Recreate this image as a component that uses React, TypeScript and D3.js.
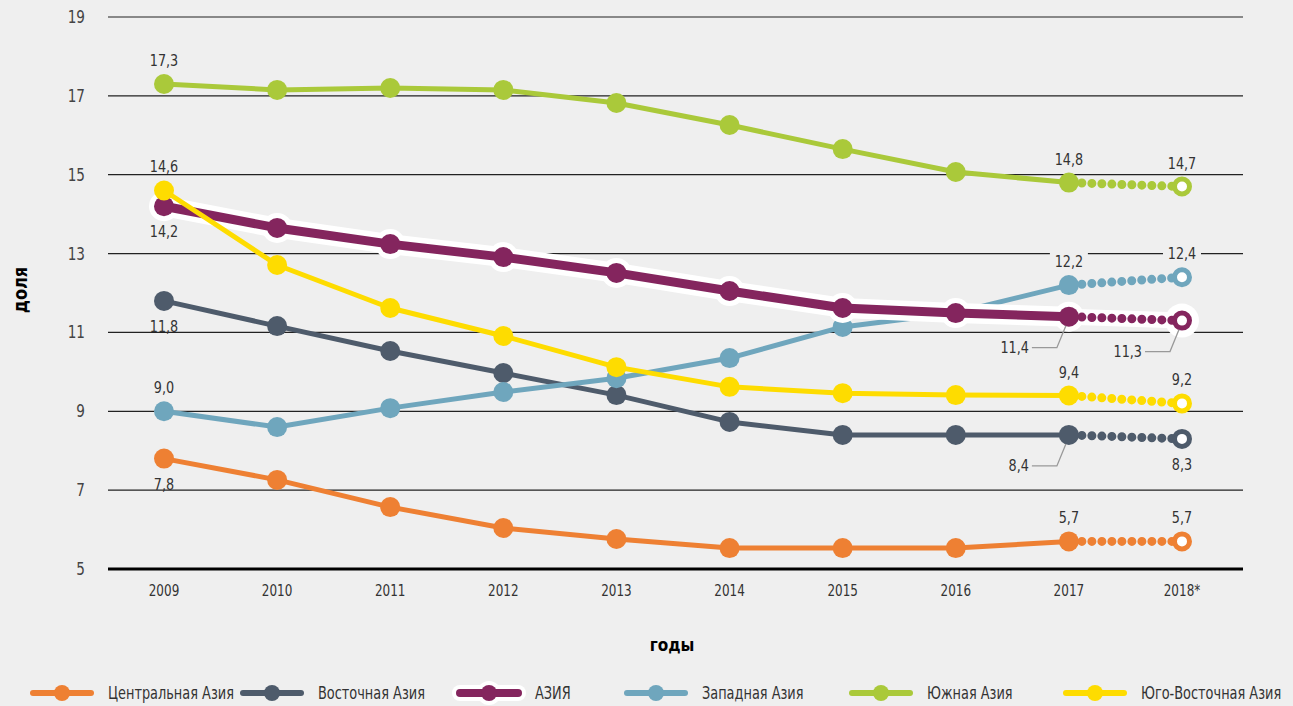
import * as d3 from "d3";

// chart data
const years = ["2009", "2010", "2011", "2012", "2013", "2014", "2015", "2016", "2017", "2018*"];
const yTicks = [5, 7, 9, 11, 13, 15, 17, 19];

const central = [7.8, 7.26, 6.57, 6.04, 5.76, 5.53, 5.53, 5.53, 5.7, 5.7];
const eastern = [11.8, 11.16, 10.53, 9.97, 9.41, 8.73, 8.4, 8.4, 8.4, 8.3];
const asia = [14.2, 13.65, 13.24, 12.91, 12.51, 12.05, 11.62, 11.49, 11.4, 11.3];
const western = [9.0, 8.6, 9.08, 9.49, 9.84, 10.35, 11.14, 11.5, 12.2, 12.4];
const southern = [17.3, 17.15, 17.2, 17.15, 16.82, 16.26, 15.65, 15.07, 14.8, 14.7];
const southEast = [14.6, 12.71, 11.62, 10.91, 10.12, 9.62, 9.46, 9.41, 9.4, 9.2];

const W = 1293;
const H = 706;
const FONT = "'DejaVu Sans', sans-serif";

const x = d3.scalePoint<string>().domain(years).range([164, 1182]);
const y = d3.scaleLinear().domain([5, 19]).range([569, 17]);

type Series = { key: string; name: string; values: number[]; color: string; halo?: boolean };

const series: Record<string, Series> = {
  central: { key: "central", name: "Центральная Азия", values: central, color: "#ee8033" },
  eastern: { key: "eastern", name: "Восточная Азия", values: eastern, color: "#4e5b6b" },
  asia: { key: "asia", name: "АЗИЯ", values: asia, color: "#84255e", halo: true },
  western: { key: "western", name: "Западная Азия", values: western, color: "#6fa6bd" },
  southern: { key: "southern", name: "Южная Азия", values: southern, color: "#aac93a" },
  southEast: { key: "southEast", name: "Юго-Восточная Азия", values: southEast, color: "#fedc00" },
};

const legendOrder = ["central", "eastern", "asia", "western", "southern", "southEast"];
const drawOrder = ["central", "eastern", "western", "asia", "southern", "southEast"];
const legendX = [33, 243, 460, 627, 852, 1066];

// value labels: series, year index, placement
const labels: { s: string; i: number; pos: "above" | "below" | "leader"; bg?: boolean }[] = [
  { s: "southern", i: 0, pos: "above" },
  { s: "southEast", i: 0, pos: "above" },
  { s: "asia", i: 0, pos: "below" },
  { s: "eastern", i: 0, pos: "below" },
  { s: "western", i: 0, pos: "above" },
  { s: "central", i: 0, pos: "below" },
  { s: "southern", i: 8, pos: "above" },
  { s: "southern", i: 9, pos: "above" },
  { s: "western", i: 8, pos: "above", bg: true },
  { s: "western", i: 9, pos: "above", bg: true },
  { s: "asia", i: 8, pos: "leader" },
  { s: "asia", i: 9, pos: "leader" },
  { s: "southEast", i: 8, pos: "above" },
  { s: "southEast", i: 9, pos: "above" },
  { s: "eastern", i: 8, pos: "leader" },
  { s: "eastern", i: 9, pos: "below" },
  { s: "central", i: 8, pos: "above" },
  { s: "central", i: 9, pos: "above" },
];

const fmt = (v: number) => d3.format(".1f")(v).replace(".", ",");

const line = d3
  .line<[string, number]>()
  .x((d) => x(d[0]) as number)
  .y((d) => y(d[1]));

// condensed look: squeeze text horizontally around its anchor
const squeeze = (ax: number, ay: number, k = 0.8) => `translate(${ax},${ay}) scale(${k},1)`;

function SeriesMarks({ s }: { s: Series }) {
  const pts: [string, number][] = s.values.map((v, i) => [years[i], v]);
  const solid = pts.slice(0, 9);
  const dotted = pts.slice(8);
  const w = s.halo ? 9 : 5;
  const last = pts[9];
  return (
    <g>
      {s.halo && (
        <g>
          <path d={line(solid) ?? ""} fill="none" stroke="#fff" strokeWidth={20} strokeLinejoin="round" strokeLinecap="round" />
          <path d={line(dotted) ?? ""} fill="none" stroke="#fff" strokeWidth={16} strokeLinecap="round" />
          {solid.map((p, i) => (
            <circle key={i} cx={x(p[0])} cy={y(p[1])} r={15} fill="#fff" />
          ))}
          <circle cx={x(last[0])} cy={y(last[1])} r={17} fill="#fff" />
        </g>
      )}
      <path d={line(solid) ?? ""} fill="none" stroke={s.color} strokeWidth={w} strokeLinejoin="round" />
      <path
        d={line(dotted) ?? ""}
        fill="none"
        stroke={s.color}
        strokeWidth={9}
        strokeLinecap="round"
        strokeDasharray="0 10"
        strokeDashoffset={7}
      />
      {solid.map((p, i) => (
        <circle key={i} cx={x(p[0])} cy={y(p[1])} r={10} fill={s.color} />
      ))}
      <circle cx={x(last[0])} cy={y(last[1])} r={7.5} fill="#fff" stroke={s.color} strokeWidth={5} />
    </g>
  );
}

function ValueLabel({ s, i, pos, bg }: { s: string; i: number; pos: string; bg?: boolean }) {
  const v = series[s].values[i];
  const px = x(years[i]) as number;
  const py = y(v);
  const text = fmt(v);
  if (pos === "leader") {
    const tx = px - 30;
    const ty = py + 36;
    return (
      <g>
        <polyline
          points={`${tx - 7},${ty - 5} ${px - 12},${ty - 5} ${px - 3},${py + 9}`}
          fill="none"
          stroke="#999"
          strokeWidth={1.3}
        />
        <text transform={squeeze(tx - 10, ty)} textAnchor="end" fontSize={16} fill="#333">
          {text}
        </text>
      </g>
    );
  }
  const ty = pos === "above" ? py - 18 : py + 31;
  return (
    <g>
      {bg && <rect x={px - 19} y={ty - 16} width={38} height={22} fill="#efefef" />}
      <text transform={squeeze(px, ty)} textAnchor="middle" fontSize={16} fill="#333">
        {text}
      </text>
    </g>
  );
}

export default function App() {
  return (
    <svg width={W} height={H} style={{ position: "absolute", left: 0, top: 0 }} fontFamily={FONT}>
      <rect width={W} height={H} fill="#efefef" />
      {yTicks.map((t) => (
        <g key={t}>
          <line
            x1={108}
            x2={1243}
            y1={y(t)}
            y2={y(t)}
            stroke={t === 5 ? "#000" : "#222"}
            strokeWidth={t === 5 ? 3 : 1.2}
          />
          <text transform={squeeze(85, y(t) + 6)} textAnchor="end" fontSize={17} fill="#444">
            {t}
          </text>
        </g>
      ))}
      {years.map((yr) => (
        <text key={yr} transform={squeeze(x(yr) as number, 596)} textAnchor="middle" fontSize={15} fill="#333">
          {yr}
        </text>
      ))}
      <text transform={squeeze(672, 651, 0.85)} textAnchor="middle" fontSize={18} fontWeight="bold" fill="#000">
        годы
      </text>
      <text
        transform="translate(27,290) rotate(-90) scale(0.85,1)"
        textAnchor="middle"
        fontSize={19}
        fontWeight="bold"
        fill="#000"
      >
        доля
      </text>
      {labels.filter((l) => l.bg).map((l, k) => (
        <ValueLabel key={"bg" + k} {...l} />
      ))}
      {drawOrder.map((k) => (
        <SeriesMarks key={k} s={series[k]} />
      ))}
      {labels.filter((l) => !l.bg).map((l, k) => (
        <ValueLabel key={k} {...l} />
      ))}
      {legendOrder.map((k, i) => {
        const s = series[k];
        const lx = legendX[i];
        return (
          <g key={k}>
            {s.halo && (
              <g>
                <line x1={lx} x2={lx + 58} y1={693} y2={693} stroke="#fff" strokeWidth={16} strokeLinecap="round" />
                <circle cx={lx + 29} cy={693} r={12} fill="#fff" />
              </g>
            )}
            <line x1={lx} x2={lx + 58} y1={693} y2={693} stroke={s.color} strokeWidth={s.halo ? 8 : 6} strokeLinecap="round" />
            <circle cx={lx + 29} cy={693} r={8} fill={s.color} />
            <text transform={squeeze(lx + 75, 699, 0.76)} fontSize={17} fill="#333">
              {s.name}
            </text>
          </g>
        );
      })}
    </svg>
  );
}
